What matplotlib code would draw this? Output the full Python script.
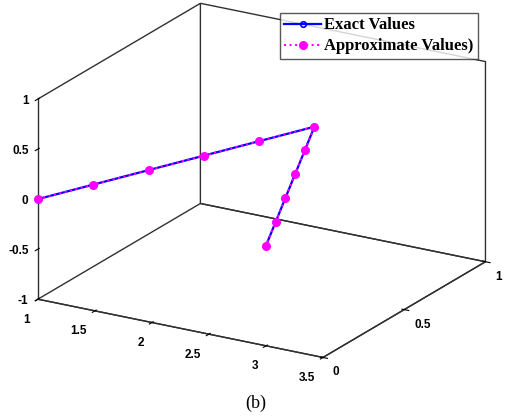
import numpy as np
import matplotlib
matplotlib.use('Agg')
import matplotlib.pyplot as plt

# data
x_vals = [1.0, 1.2, 1.4, 1.6, 1.8, 2.0, 2.2, 2.4, 2.6, 2.8, 3.0]
y_vals = [0.0, 0.2, 0.4, 0.6, 0.8, 1.0, 0.8, 0.6, 0.4, 0.2, 0.0]
z_exact = [0.0] * 11
z_approx = [0.0] * 11

x_ticks = [1, 1.5, 2, 2.5, 3, 3.5]
y_ticks = [0, 0.5, 1]
z_ticks = [-1, -0.5, 0, 0.5, 1]
x_labels = ['1', '1.5', '2', '2.5', '3', '3.5']
y_labels = ['0', '0.5', '1']
z_labels = ['-1', '-0.5', '0', '0.5', '1']

fig = plt.figure(figsize=(5.11, 4.16), dpi=100)
ax = fig.add_axes([0.002, 0.095, 1.0, 0.918], projection='3d', proj_type='ortho')
ax.view_init(elev=20.3, azim=-59.5)
ax.set_box_aspect((1.55, 1.5, 1.0), zoom=1.29)

ax.plot(x_vals, y_vals, z_exact, color='#0000ff', lw=1.6, marker='o',
        ms=4, mfc='none', mec='#0000ff', mew=1.2, label='Exact Values',
        clip_on=False)
ax.plot(x_vals, y_vals, z_approx, color='#ff00ff', lw=1.5, ls=':',
        marker='o', ms=5.5, mfc='#ff00ff', mec='#ff00ff',
        label='Approximate Values)', clip_on=False)

ax.set_xlim(1, 3.5)
ax.set_ylim(0, 1)
ax.set_zlim(-1, 1)
ax.set_xticks(x_ticks)
ax.set_yticks(y_ticks)
ax.set_zticks(z_ticks)
tick_font = {'family': 'Liberation Sans', 'weight': 'bold', 'size': 8.5}
ax.set_xticklabels(x_labels, ha='right', fontdict=tick_font)
ax.set_yticklabels(y_labels, ha='left', fontdict=tick_font)
ax.set_zticklabels(z_labels, ha='right', va='center_baseline', fontdict=tick_font)
ax.grid(False)
ax.zaxis.set_ticks_position('lower')
ax.tick_params(axis='x', pad=-1)
ax.tick_params(axis='y', pad=-3)
ax.tick_params(axis='z', pad=-5)

for axis in (ax.xaxis, ax.yaxis, ax.zaxis):
    axis.pane.fill = False
    axis.pane.set_alpha(1)
    axis.pane.set_edgecolor('#303030')
    axis.pane.set_linewidth(1.0)
    axis.line.set_color('#303030')
    axis.line.set_linewidth(1.0)

leg = ax.legend(loc='upper right', bbox_to_anchor=(0.935, 0.968),
                bbox_transform=fig.transFigure, fancybox=False,
                prop={'family': 'Liberation Serif', 'weight': 'bold', 'size': 12},
                handlelength=2.2, borderpad=0.25, labelspacing=0.3,
                handletextpad=0.2, borderaxespad=0)
leg.get_frame().set_edgecolor('#303030')
leg.get_frame().set_linewidth(1.0)

fig.text(0.5, 0.03, '(b)', ha='center', va='center',
         family='Liberation Serif', size=13)

fig.savefig('out.png', dpi=100)
